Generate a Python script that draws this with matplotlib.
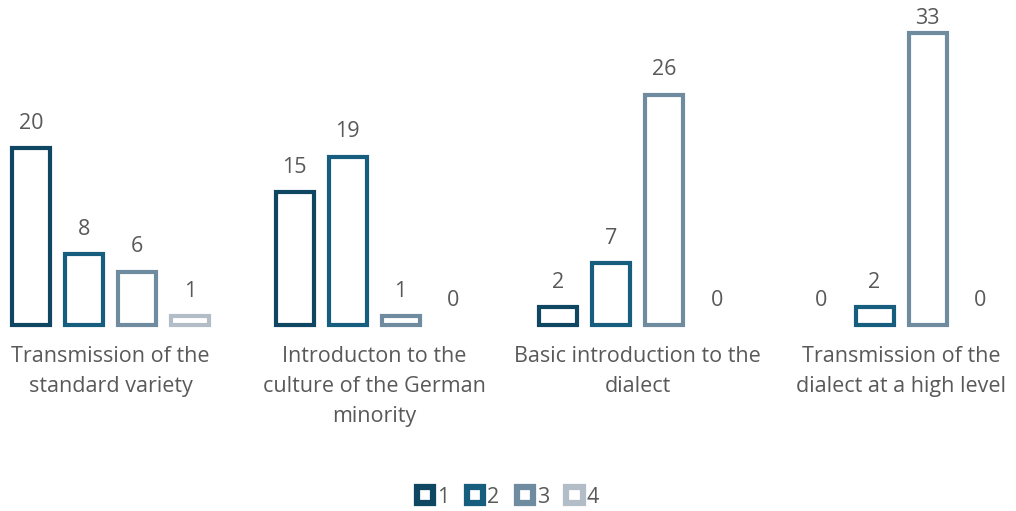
import matplotlib
matplotlib.use("Agg")
import matplotlib.pyplot as plt
from matplotlib.patches import Patch
import numpy as np

categories = [
    "Transmission of the\nstandard variety",
    "Introducton to the\nculture of the German\nminority",
    "Basic introduction to the\ndialect",
    "Transmission of the\ndialect at a high level",
]
series_names = ["1", "2", "3", "4"]
values = [
    [20, 15, 2, 0],   # series 1
    [8, 19, 7, 2],    # series 2
    [6, 1, 26, 33],   # series 3
    [1, 0, 0, 0],     # series 4
]
colors = ["#0f4763", "#175e7e", "#6e8ba0", "#b3bdc8"]
TXT = "#595959"

plt.rcParams["font.family"] = ["Open Sans", "DejaVu Sans"]

W, H, DPI = 1016, 511, 100
fig = plt.figure(figsize=(W / DPI, H / DPI), dpi=DPI)

# pixel geometry of the plot area
x0_px, step_px = 110.5, 263.5      # centre of first group, group spacing
base_px, ppu = 325.0, 8.85          # baseline from top, pixels per unit
ax = fig.add_axes([0, (H - base_px) / H, 1, base_px / H])
ax.set_xlim(-x0_px / step_px, (W - x0_px) / step_px)
ax.set_ylim(0, base_px / ppu)
ax.axis("off")

x = np.arange(len(categories))
slot = 53 / step_px
width = 38 / step_px
for k, (vals, col) in enumerate(zip(values, colors)):
    xs = x + (k - 1.5) * slot
    vals = np.array(vals)
    nz = vals > 0
    ax.bar(xs[nz], vals[nz], width=width, facecolor="white", edgecolor=col,
           linewidth=3.0, clip_on=False)
    for xi, v in zip(xs, vals):
        ty = min(v + 25 / ppu, (base_px - 18) / ppu)
        ax.text(xi, ty, f"{v}", ha="center", va="center", fontsize=15.5,
                color=TXT)

for xi, lab in zip(x, categories):
    ax.text(xi, -21 / ppu, lab, ha="center", va="top", fontsize=15.5,
            color=TXT, linespacing=1.55)

handles = [Patch(facecolor="white", edgecolor=c, linewidth=4.5) for c in colors]
fig.legend(handles, series_names, loc="center", bbox_to_anchor=(0.5, 1 - 497 / H),
           ncol=4, frameon=False, fontsize=15.5, labelcolor=TXT,
           handlelength=0.75, handleheight=0.75, handletextpad=0.2,
           columnspacing=0.8)

fig.savefig("out.png", dpi=DPI)
